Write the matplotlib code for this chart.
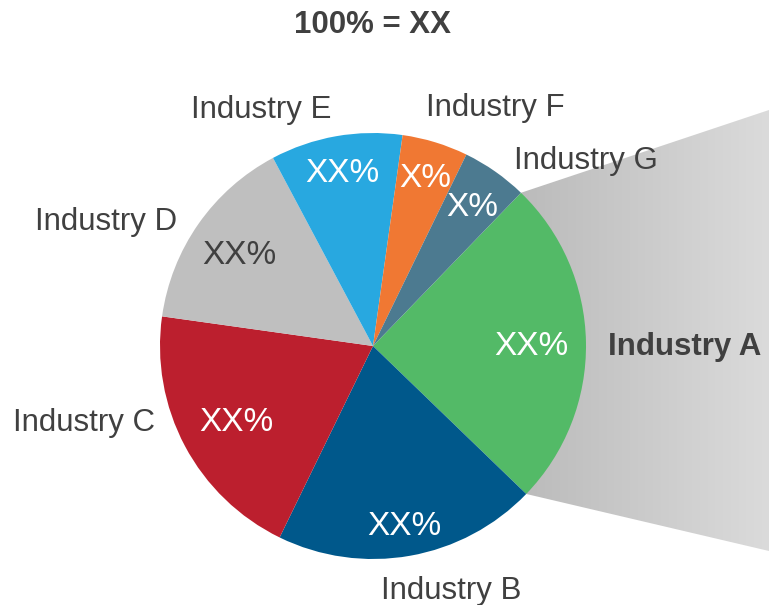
import numpy as np
import matplotlib.pyplot as plt
from matplotlib.colors import LinearSegmentedColormap
from matplotlib.patches import Polygon

plt.rcParams['font.family'] = ['Liberation Sans', 'DejaVu Sans']

industries = ["Industry A", "Industry B", "Industry C", "Industry D",
              "Industry E", "Industry F", "Industry G"]
shares = [25, 20, 20, 15, 10, 5, 5]
pct_labels = ["XX%", "XX%", "XX%", "XX%", "XX%", "X%", "X%"]
colors = ["#53BA67", "#00588B", "#BC1F2E", "#BFBFBF", "#28A8E0", "#F07833", "#4C7A90"]
pct_colors = ["white", "white", "white", "#404040", "white", "white", "white"]
pct_dist = [0.745, 0.845, 0.727, 0.767, 0.84, 0.838, 0.813]

W, H = 769, 605
text_col = "#404040"

fig = plt.figure(figsize=(W / 100, H / 100), dpi=100)
ax = fig.add_axes([0, 0, 1, 1])

cx, cy, r = 373, H - 346, 213
wedges, _ = ax.pie(shares, colors=colors, startangle=46, counterclock=False,
                   center=(cx, cy), radius=r, wedgeprops=dict(linewidth=0))
for w in wedges:
    w.set_zorder(3)

# gray projection behind slice A
a1 = np.deg2rad(wedges[0].theta2)
a2 = np.deg2rad(wedges[0].theta1)
p_top = (cx + r * np.cos(a1), cy + r * np.sin(a1))
p_bot = (cx + r * np.cos(a2), cy + r * np.sin(a2))
poly = Polygon([(cx, cy), p_top, (W, H - 110), (W, H - 551), p_bot],
               closed=True, facecolor="none", edgecolor="none")
ax.add_patch(poly)
cmap = LinearSegmentedColormap.from_list("g", ["#BBBBBB", "#DBDBDB"])
grad = np.linspace(0, 1, 256).reshape(1, -1)
im = ax.imshow(grad, cmap=cmap, extent=(p_top[0], W, 0, H), aspect="auto",
               zorder=1, origin="lower")
im.set_clip_path(poly)

# percent labels inside slices
fs_pct = 24
cap = 0.36 * fs_pct * 100 / 72
for w, lab, d, c in zip(wedges, pct_labels, pct_dist, pct_colors):
    ang = np.deg2rad((w.theta1 + w.theta2) / 2)
    x = cx + d * r * np.cos(ang)
    y = cy + d * r * np.sin(ang)
    ax.text(x, y - cap, lab, color=c, fontsize=fs_pct, ha="center",
            va="baseline", zorder=5)

# industry labels (x centre, baseline in image pixels)
label_pos = [(685, 355), (451, 599), (84, 431), (106, 230),
             (261, 118), (495, 116), (586, 169)]
for i, (name, (x, yb)) in enumerate(zip(industries, label_pos)):
    ax.text(x, H - yb, name, color=text_col, fontsize=22.5, ha="center",
            va="baseline", fontweight="bold" if i == 0 else "normal", zorder=5)

ax.text(372, H - 33, "100% = XX", color=text_col, fontsize=22.5,
        fontweight="bold", ha="center", va="baseline")

ax.set_xlim(0, W)
ax.set_ylim(0, H)
ax.set_aspect("auto")
ax.axis("off")

fig.savefig("out.png", dpi=100)
